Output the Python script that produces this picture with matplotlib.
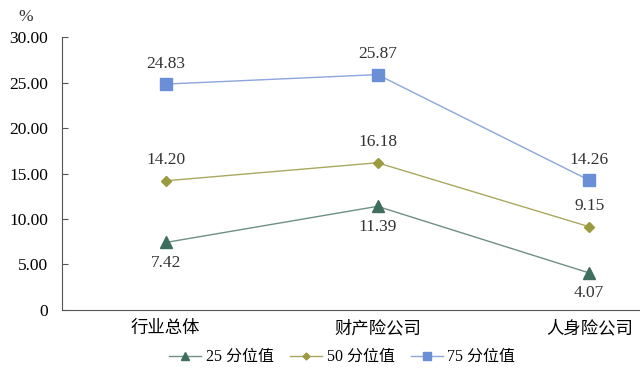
import matplotlib.pyplot as plt

plt.rcParams["font.family"] = ["Liberation Serif", "Noto Sans CJK SC"]
plt.rcParams["font.size"] = 12.5

categories = ["行业总体", "财产险公司", "人身险公司"]
p25 = [7.42, 11.39, 4.07]
p50 = [14.20, 16.18, 9.15]
p75 = [24.83, 25.87, 14.26]
series_names = ["25 分位值", "50 分位值", "75 分位值"]
yticks = [0, 5, 10, 15, 20, 25, 30]
ytick_labels = ["0", "5.00", "10.00", "15.00", "20.00", "25.00", "30.00"]

fig = plt.figure(figsize=(6.4, 3.78), dpi=100)
ax = fig.add_axes([0.097, 0.18, 0.903, 0.722])

styles = [
    (p25, "#3f6e5c", "#6f8f86", "^", 8, "below"),
    (p50, "#9a9a3e", "#a9a860", "D", 5.5, "above"),
    (p75, "#6a8fd6", "#8aa6dc", "s", 8, "above"),
]

x = list(range(len(categories)))
for (vals, mcol, lcol, mk, ms, pos), name in zip(styles, series_names):
    ax.plot(x, vals, color=lcol, linewidth=1.0, zorder=1)
    ax.plot(x, vals, linestyle="None", marker=mk, markersize=ms,
            color=mcol, markeredgecolor=mcol, zorder=3)
    for xi, v in zip(x, vals):
        if pos == "above":
            ax.annotate(f"{v:.2f}", (xi, v), xytext=(0, 9), textcoords="offset points",
                        ha="center", va="bottom", color="#333333")
        else:
            ax.annotate(f"{v:.2f}", (xi, v), xytext=(0, -9), textcoords="offset points",
                        ha="center", va="top", color="#333333")

# legend handles
handles = []
for (vals, mcol, lcol, mk, ms, pos), name in zip(styles, series_names):
    h, = ax.plot([], [], color=lcol, linewidth=1.0, marker=mk, markersize=ms - 2,
                 markerfacecolor=mcol, markeredgecolor=mcol, label=name)
    handles.append(h)

ax.set_xlim(-0.49, 2.24)
ax.set_ylim(0, 30)
ax.set_xticks(x)
ax.set_xticklabels(categories)
ax.set_yticks(yticks)
ax.set_yticklabels(ytick_labels)
ax.tick_params(axis="y", direction="in", length=4, color="#555555", pad=10)
ax.tick_params(axis="x", length=0, pad=8)
for s in ["top", "right"]:
    ax.spines[s].set_visible(False)
ax.spines["left"].set_color("#555555")
ax.spines["bottom"].set_color("#555555")

fig.text(0.04, 0.955, "%", ha="center", va="center", color="#333333")

fig.legend(handles=handles, loc="center", bbox_to_anchor=(0.535, 0.055), ncol=3,
           frameon=False, fontsize=11.5, handlelength=2.0, columnspacing=1.0,
           handletextpad=0.3)

fig.savefig("out.png", dpi=100)
